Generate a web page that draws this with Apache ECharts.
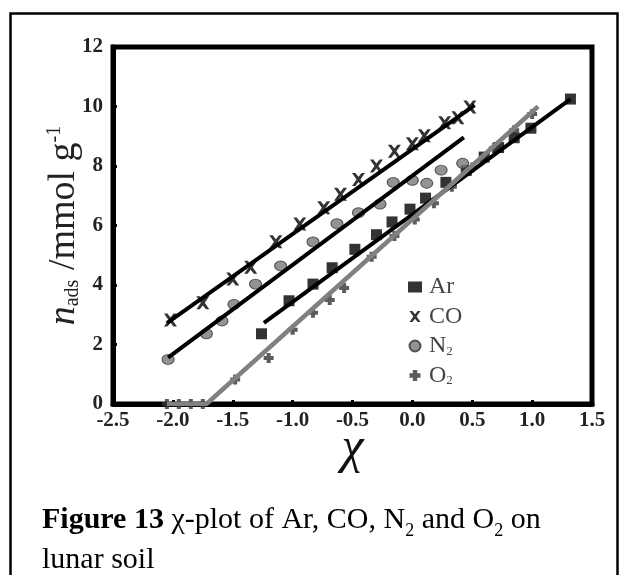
<!DOCTYPE html>
<html>
<head>
<meta charset="utf-8">
<script src="https://cdn.jsdelivr.net/npm/echarts@6/dist/echarts.min.js"></script>
<style>
  html, body { margin: 0; padding: 0; background: #fff; }
  #chart { width: 621px; height: 575px; }
</style>
</head>
<body>
<div id="chart"></div>
<script>
// measured points (chi, n_ads)
var arX = [-1.26, -1.03, -0.83, -0.67, -0.48, -0.30, -0.17, -0.02, 0.11, 0.28, 0.45, 0.60, 0.72, 0.85, 0.99, 1.32];
var arY = [2.36, 3.47, 4.03, 4.58, 5.20, 5.69, 6.12, 6.55, 6.92, 7.45, 7.85, 8.30, 8.62, 8.95, 9.27, 10.25];
var coX = [-2.02, -1.75, -1.50, -1.35, -1.14, -0.94, -0.74, -0.60, -0.45, -0.30, -0.15, 0.00, 0.10, 0.27, 0.38, 0.48];
var coY = [2.82, 3.40, 4.20, 4.60, 5.45, 6.05, 6.60, 7.05, 7.55, 8.00, 8.50, 8.75, 9.02, 9.45, 9.62, 9.98];
var n2X = [-2.04, -1.72, -1.59, -1.49, -1.31, -1.10, -0.83, -0.63, -0.45, -0.27, -0.16, 0.00, 0.12, 0.24, 0.42];
var n2Y = [1.50, 2.36, 2.79, 3.35, 4.03, 4.64, 5.45, 6.06, 6.43, 6.72, 7.45, 7.52, 7.42, 7.86, 8.09];
var o2X = [-2.05, -1.95, -1.85, -1.75, -1.48, -1.20, -1.00, -0.83, -0.69, -0.57, -0.34, -0.15, 0.02, 0.18, 0.33, 0.50, 0.68, 0.85, 1.00];
var o2Y = [0, 0, 0, 0, 0.82, 1.55, 2.50, 3.07, 3.50, 3.90, 4.95, 5.65, 6.20, 6.75, 7.30, 7.95, 8.60, 9.20, 9.75];

// fitted lines
var arFitX = [-1.24, 1.32];
var arFitY = [2.73, 10.25];
var coFitX = [-2.05, 0.52];
var coFitY = [2.72, 10.05];
var n2FitX = [-2.04, 0.43];
var n2FitY = [1.56, 8.96];
var o2FitX = [-2.05, -1.72, 1.05];
var o2FitY = [0, 0, 10.0];

var xTickLabels = ['-2.5', '-2.0', '-1.5', '-1.0', '-0.5', '0.0', '0.5', '1.0', '1.5'];
var yTickLabels = ['0', '2', '4', '6', '8', '10', '12'];

function pairs(xs, ys) {
  return xs.map(function (x, i) { return [x, ys[i]]; });
}

var serif = '"Liberation Serif", "Times New Roman", serif';
var crossPath = 'path://M0,0 L2.6,0 L5,3 L7.4,0 L10,0 L6.5,5 L10,10 L7.4,10 L5,7 L2.6,10 L0,10 L3.5,5 Z';
var plusPath = 'path://M3,0 L7,0 L7,3 L10,3 L10,7 L7,7 L7,10 L3,10 L3,7 L0,7 L0,3 L3,3 Z';

var chart = echarts.init(document.getElementById('chart'));

var option = {
  animation: false,
  backgroundColor: '#fff',
  grid: {
    left: 113, right: 29, top: 47, bottom: 171,
    show: true, borderColor: '#000', borderWidth: 5
  },
  xAxis: {
    type: 'value', min: -2.5, max: 1.5, interval: 0.5,
    name: 'χ', nameLocation: 'middle', nameGap: 20, nameMoveOverlap: false,
    nameTextStyle: { fontFamily: serif, fontSize: 50, fontStyle: 'italic', color: '#111' },
    axisLine: { show: true, onZero: false, lineStyle: { color: '#000', width: 5 } },
    axisTick: { show: true, inside: true, length: 4, lineStyle: { color: '#000', width: 3 } },
    splitLine: { show: false },
    axisLabel: {
      margin: 6, fontFamily: serif, fontWeight: 'bold', fontSize: 21, color: '#222',
      formatter: function (v) {
        var i = Math.round((v + 2.5) / 0.5);
        return xTickLabels[i];
      }
    }
  },
  yAxis: {
    type: 'value', min: 0, max: 12, interval: 2,
    name: '{i|n}{sub|ads} /mmol g{sup|-1}', nameLocation: 'middle', nameGap: 30, nameRotate: 90,
    nameMoveOverlap: false,
    nameTextStyle: {
      fontFamily: serif, fontSize: 38, color: '#222',
      rich: {
        i: { fontFamily: serif, fontSize: 38, fontStyle: 'italic', color: '#222' },
        sub: { fontFamily: serif, fontSize: 20, color: '#222', verticalAlign: 'bottom', padding: [11, 0, 0, 0] },
        sup: { fontFamily: serif, fontSize: 20, color: '#222', verticalAlign: 'top', padding: [0, 0, 11, 0] }
      }
    },
    axisLine: { show: true, onZero: false, lineStyle: { color: '#000', width: 5 } },
    axisTick: { show: true, inside: true, length: 4, lineStyle: { color: '#000', width: 3 } },
    splitLine: { show: false },
    axisLabel: {
      margin: 10, fontFamily: serif, fontWeight: 'bold', fontSize: 21, color: '#222',
      formatter: function (v) { return yTickLabels[Math.round(v / 2)]; }
    }
  },
  legend: {
    orient: 'vertical', left: 403, top: 270,
    itemWidth: 14, itemHeight: 11, itemGap: 5.5,
    data: ['Ar', 'CO', 'N2', 'O2'],
    formatter: function (name) {
      if (name === 'N2') return 'N{s|2}';
      if (name === 'O2') return 'O{s|2}';
      return name;
    },
    textStyle: {
      fontFamily: serif, fontSize: 24, color: '#444', padding: [0, 0, 0, 2],
      rich: { s: { fontFamily: serif, fontSize: 13, color: '#444', verticalAlign: 'bottom', padding: [8, 0, 0, 0] } }
    }
  },
  series: [
    { name: 'Ar', type: 'scatter', data: pairs(arX, arY), symbol: 'rect', symbolSize: 11,
      itemStyle: { color: '#000' }, z: 2 },
    { name: 'CO', type: 'scatter', data: pairs(coX, coY), symbol: crossPath, symbolSize: 13,
      itemStyle: { color: '#000' }, z: 2 },
    { name: 'N2', type: 'scatter', data: pairs(n2X, n2Y), symbol: 'circle', symbolSize: [12, 10],
      itemStyle: { color: '#787878', borderColor: '#333', borderWidth: 1 }, z: 2 },
    { name: 'O2', type: 'scatter', data: pairs(o2X, o2Y), symbol: plusPath, symbolSize: 10,
      itemStyle: { color: '#333' }, z: 2 },
    { name: 'Ar fit', type: 'line', data: pairs(arFitX, arFitY), showSymbol: false,
      lineStyle: { color: '#000', width: 4 }, z: 3 },
    { name: 'CO fit', type: 'line', data: pairs(coFitX, coFitY), showSymbol: false,
      lineStyle: { color: '#000', width: 4 }, z: 3 },
    { name: 'N2 fit', type: 'line', data: pairs(n2FitX, n2FitY), showSymbol: false,
      lineStyle: { color: '#000', width: 4 }, z: 3 },
    { name: 'O2 fit', type: 'line', data: pairs(o2FitX, o2FitY), showSymbol: false,
      lineStyle: { color: '#808080', width: 4.5 }, z: 4 }
  ],
  graphic: [
    { type: 'rect', left: 8, top: 11, z: 0, silent: true,
      shape: { width: 607, height: 580 },
      style: { fill: 'none', stroke: '#000', lineWidth: 2.5 } },
    { type: 'text', left: 42, top: 500, z: 10,
      style: {
        text: '{b|Figure 13} χ-plot of Ar, CO, N{s|2} and O{s|2} on\nlunar soil',
        fontFamily: serif, fontSize: 30, fill: '#000', lineHeight: 40,
        rich: {
          b: { fontFamily: serif, fontSize: 30, fontWeight: 'bold', fill: '#000', lineHeight: 40 },
          s: { fontFamily: serif, fontSize: 18, fill: '#000', verticalAlign: 'bottom', padding: [12, 0, 0, 0], lineHeight: 40 }
        }
      } }
  ]
};

chart.setOption(option);
</script>
</body>
</html>
